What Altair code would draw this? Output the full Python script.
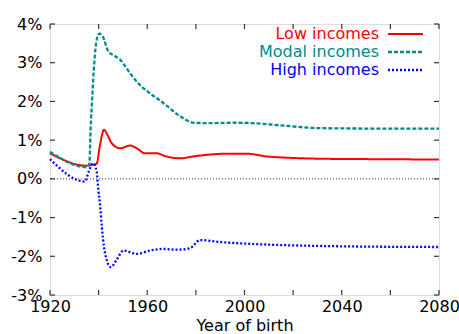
import altair as alt
import pandas as pd

# ---- data (percent) ----
years_low = [1920, 1935, 1937, 1939.2, 1940.5, 1942.2, 1943.5, 1945.4, 1948.8, 1952.9, 1955.7,
             1959, 1963.9, 1967.3, 1973.5, 1979, 1984.5, 1992.7, 2001, 2009, 2020, 2031, 2050, 2080]
low = [0.66, 0.34, 0.36, 0.39, 0.85, 1.27, 1.15, 0.92, 0.79, 0.86, 0.79,
       0.66, 0.66, 0.59, 0.53, 0.58, 0.62, 0.65, 0.65, 0.58, 0.54, 0.52, 0.51, 0.50]

years_modal = [1920, 1935, 1936.2, 1936.7, 1937.4, 1938.2, 1939.2, 1940.3, 1941.7, 1944, 1946.5,
               1948.8, 1952.9, 1956.3, 1961.1, 1966.6, 1972.8, 1976, 1979, 1985, 1995, 2003,
               2015, 2031, 2050, 2080]
modal = [0.70, 0.30, 0.40, 1.27, 2.13, 2.99, 3.59, 3.75, 3.68, 3.29, 3.18,
         3.08, 2.73, 2.47, 2.21, 1.96, 1.65, 1.52, 1.45, 1.44, 1.45, 1.44,
         1.38, 1.31, 1.30, 1.30]

years_high = [1920, 1934.4, 1936, 1937.8, 1939.2, 1939.9, 1940.6, 1941.3, 1942.2, 1943.3, 1945,
              1947.4, 1950.2, 1955.7, 1961.1, 1966.6, 1972.1, 1977.6, 1981.7, 1989.9, 2010.5,
              2028.3, 2050, 2080]
high = [0.51, -0.07, 0.20, 0.40, 0.19, -0.30, -0.67, -1.23, -1.75, -2.09, -2.28,
        -2.09, -1.85, -1.94, -1.85, -1.81, -1.83, -1.79, -1.58, -1.63, -1.70,
        -1.73, -1.75, -1.76]

series_names = ["Low incomes", "Modal incomes", "High incomes"]
series_colors = ["#ff0000", "#008b8b", "#0000ff"]
series_dash = [[1, 0], [4, 2], [2, 2]]

x_ticks = list(range(1920, 2081, 20))
x_labels = [1920, 1960, 2000, 2040, 2080]
y_ticks = list(range(-3, 5))

W, H = 389, 271
FONT = "DejaVu Sans"

x_enc = alt.X("year:Q",
              scale=alt.Scale(domain=[1920, 2080], nice=False, zero=False),
              axis=alt.Axis(values=x_labels, tickSize=0, domain=False, grid=False,
                            labelFont=FONT, labelFontSize=16, labelColor="black",
                            labelPadding=3, labelFlush=False, format="d",
                            title="Year of birth", titleFont=FONT, titleFontSize=16,
                            titleFontWeight="normal", titleColor="black", titlePadding=3))
y_enc = alt.Y("value:Q",
              scale=alt.Scale(domain=[-3, 4], nice=False, zero=False),
              axis=alt.Axis(values=y_ticks, labelExpr="datum.value + '%'", tickSize=0,
                            domain=False, grid=False, labelFont=FONT, labelFontSize=16,
                            labelColor="black", labelPadding=8, title=None))

layers = []

# zero line
zero_df = pd.DataFrame({"value": [0]})
layers.append(alt.Chart(zero_df).mark_rule(color="black", strokeWidth=0.8, strokeDash=[1, 2])
              .encode(y=y_enc))

# ticks (inward, mirrored)
xt_df = pd.DataFrame({"year": x_ticks})
yt_df = pd.DataFrame({"value": y_ticks})
tick_style = dict(color="#333333", strokeWidth=1.2)
layers.append(alt.Chart(xt_df).mark_rule(**tick_style)
              .encode(x=x_enc, y=alt.value(H), y2=alt.value(H - 5)))
layers.append(alt.Chart(xt_df).mark_rule(**tick_style)
              .encode(x=x_enc, y=alt.value(0), y2=alt.value(5)))
layers.append(alt.Chart(yt_df).mark_rule(**tick_style)
              .encode(y=y_enc, x=alt.value(0), x2=alt.value(5)))
layers.append(alt.Chart(yt_df).mark_rule(**tick_style)
              .encode(y=y_enc, x=alt.value(W), x2=alt.value(W - 5)))

# series
series_data = [(years_low, low), (years_modal, modal), (years_high, high)]
widths = [2, 2.3, 2.3]
for (yrs, vals), name, col, dash, w in zip(series_data, series_names, series_colors, series_dash, widths):
    df = pd.DataFrame({"year": yrs, "value": vals})
    layers.append(alt.Chart(df).mark_line(color=col, strokeWidth=w, strokeDash=dash,
                                          interpolate="monotone")
                  .encode(x=x_enc, y=y_enc))

# legend (top-right, inside)
leg_y = [10, 28, 46]
for name, col, dash, w, ly in zip(series_names, series_colors, series_dash, widths, leg_y):
    ldf = pd.DataFrame({"label": [name]})
    layers.append(alt.Chart(ldf).mark_text(align="right", baseline="middle", font=FONT,
                                           fontSize=16, color=col)
                  .encode(text="label:N", x=alt.value(329), y=alt.value(ly)))
    layers.append(alt.Chart(ldf).mark_rule(color=col, strokeWidth=w, strokeDash=dash)
                  .encode(x=alt.value(338), x2=alt.value(373), y=alt.value(ly)))

chart = (alt.layer(*layers)
         .properties(width=W, height=H,
                     autosize=alt.AutoSizeParams(type="none"),
                     padding={"left": 50, "top": 24, "right": 20, "bottom": 39})
         .configure_view(stroke="black", strokeWidth=1.3)
         .configure(background="white"))

chart.save("out.html", embed_options={"renderer": "svg", "actions": False})
